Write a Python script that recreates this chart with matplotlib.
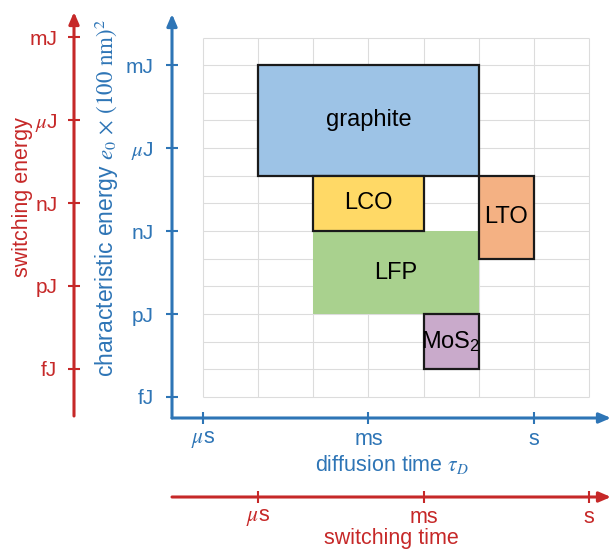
import numpy as np
import matplotlib
matplotlib.use('Agg')
from matplotlib import pyplot as plt
from matplotlib.patches import Rectangle

plt.rcParams['font.family'] = ['Liberation Sans', 'DejaVu Sans']
plt.rcParams['mathtext.fontset'] = 'stix'

# Materials: (time min, time max) in s, (energy min, energy max) in J
materials = ['graphite', 'LCO', 'LTO', 'LFP', 'MoS$_\\mathregular{2}$']
t_low = [1e-5, 1e-4, 1e-1, 1e-4, 1e-2]
t_high = [1e-1, 1e-2, 1e0, 1e-1, 1e-1]
e_low = [1e-7, 1e-9, 1e-10, 1e-12, 1e-14]
e_high = [1e-3, 1e-7, 1e-7, 1e-9, 1e-12]
fills = ['#9dc3e6', '#ffd966', '#f4b183', '#a9d18e', '#c9aacb']
edged = [True, True, True, False, True]

energy_ticks = [1e-15, 1e-12, 1e-9, 1e-6, 1e-3]
energy_labels = ['fJ', 'pJ', 'nJ', '$\\mu$J', 'mJ']
time_ticks = [1e-6, 1e-3, 1e0]
time_labels = ['$\\mu$s', 'ms', 's']

blue = '#2e75b6'
red = '#c62828'
W, H = 612, 550
arrow = dict(arrowstyle='-|>,head_length=0.7,head_width=0.3', lw=2.2,
             shrinkA=0, shrinkB=0)

fig = plt.figure(figsize=(W / 100, H / 100), dpi=100)

# main axes (pixel geometry from the reference)
x0, x1, y0, y1 = 172, 611, 418, 14
ax = fig.add_axes([x0 / W, 1 - y0 / H, (x1 - x0) / W, (y0 - y1) / H])
ax.set_xscale('log')
ax.set_yscale('log')
ax.set_xlim(10 ** -6.563, 10 ** 1.4)
ax.set_ylim(10 ** -15.76, 10 ** -1.15)
ax.patch.set_visible(False)
for s in ax.spines.values():
    s.set_visible(False)

# grid only over the decade block
ax.vlines(10.0 ** np.arange(-6, 2), 1e-15, 1e-2, color='#dcdcdc', lw=0.8, zorder=0)
ax.hlines(10.0 ** np.arange(-15, -1), 1e-6, 1e1, color='#dcdcdc', lw=0.8, zorder=0)

order = [3, 0, 1, 2, 4]
for i in order:
    r = Rectangle((t_low[i], e_low[i]), t_high[i] - t_low[i], e_high[i] - e_low[i],
                  facecolor=fills[i], edgecolor='#1a1a1a' if edged[i] else 'none',
                  lw=1.6, zorder=2)
    ax.add_patch(r)
    cx = np.sqrt(t_low[i] * t_high[i])
    cy = np.sqrt(e_low[i] * e_high[i])
    ax.text(cx, cy, materials[i], ha='center', va='center', fontsize=17, zorder=3)

ax.set_xticks(time_ticks)
ax.set_xticklabels(time_labels)
ax.set_yticks(energy_ticks)
ax.set_yticklabels(energy_labels)
ax.minorticks_off()
ax.tick_params(axis='both', direction='inout', length=8, width=1.5, colors=blue,
               labelsize=15.5)
ax.tick_params(axis='y', pad=9, labelsize=15)
ax.tick_params(axis='x', pad=4)
ax.annotate('', xy=(1, 0), xytext=(0, 0), xycoords='axes fraction',
            arrowprops=dict(color=blue, **arrow))
ax.annotate('', xy=(0, 1), xytext=(0, 0), xycoords='axes fraction',
            arrowprops=dict(color=blue, **arrow))
ax.set_xlabel('diffusion time $\\tau_D$', color=blue, fontsize=15.5, labelpad=2)
ax.set_ylabel('characteristic energy $e_0$ $\\times$ $(100\\ \\mathrm{nm})^2$',
              color=blue, fontsize=16.5)
ax.yaxis.set_label_coords(121 / W, 1 - 198 / H, transform=fig.transFigure)

# red switching-energy axis (one decade below the blue one)
ra = fig.add_axes([74 / W, 1 - 416 / H, 0.01, (416 - 12) / H])
ra.set_yscale('log')
ra.set_ylim(10 ** -16.71, 10 ** -2.08)
ra.patch.set_visible(False)
for s in ra.spines.values():
    s.set_visible(False)
ra.set_xticks([])
ra.set_yticks(energy_ticks)
ra.set_yticklabels(energy_labels)
ra.minorticks_off()
ra.tick_params(axis='y', direction='inout', length=8, width=1.5, colors=red,
               labelsize=15, pad=8)
ra.annotate('', xy=(0, 1), xytext=(0, 0), xycoords='axes fraction',
            arrowprops=dict(color=red, **arrow))
ra.set_ylabel('switching energy', color=red, fontsize=15.5)
ra.yaxis.set_label_coords(33 / W, 1 - 197 / H, transform=fig.transFigure)

# red switching-time axis (one decade shifted)
rb = fig.add_axes([x0 / W, 1 - 497 / H, (x1 - x0) / W, 0.001])
rb.set_xscale('log')
rb.set_xlim(10 ** -7.563, 10 ** 0.4)
rb.patch.set_visible(False)
for s in rb.spines.values():
    s.set_visible(False)
rb.set_yticks([])
rb.set_xticks(time_ticks)
rb.set_xticklabels(time_labels)
rb.minorticks_off()
rb.tick_params(axis='x', direction='inout', length=8, width=1.5, colors=red,
               labelsize=15.5, pad=3)
rb.annotate('', xy=(1, 0), xytext=(0, 0), xycoords='axes fraction',
            arrowprops=dict(color=red, **arrow))
rb.set_xlabel('switching time', color=red, fontsize=15.5, labelpad=0)

fig.savefig('out.png', dpi=100)
